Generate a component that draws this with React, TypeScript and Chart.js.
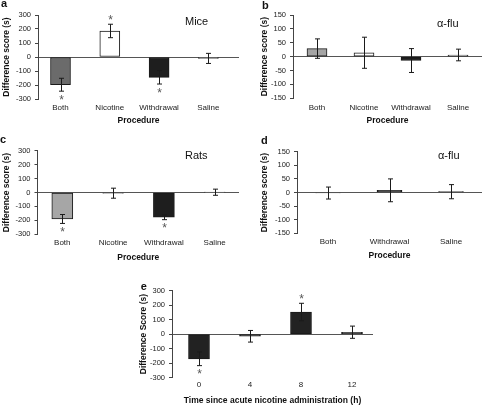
import React, { useEffect, useRef } from 'react';
import { Chart, registerables } from 'chart.js';

Chart.register(...registerables);

const FONT = "'Liberation Sans', Arial, Helvetica, sans-serif";
Chart.defaults.font.family = FONT;

// ---------- data ----------
const procedures = ['Both', 'Nicotine', 'Withdrawal', 'Saline'];
const proceduresD = ['Both', 'Withdrawal', 'Saline'];
const hours = ['0', '4', '8', '12'];

const ticks300 = [-300, -200, -100, 0, 100, 200, 300];
const ticks150 = [-150, -100, -50, 0, 50, 100, 150];

// a: Mice
const miceMean = [-198, 186, -145, -10];
const miceErr = [46, 48, 48, 36];
const miceSig = ['below', 'above', 'below', ''];
const miceColors = ['#6b6b6b', '#ffffff', '#1e1e1e', '#8c8c8c'];

// b: alpha-flu (mice)
const fluMiceMean = [29, 14, -14, 6];
const fluMiceErr = [35, 56, 43, 21];
const fluMiceSig = ['', '', '', ''];
const fluMiceColors = ['#a5a5a5', '#ffffff', '#1e1e1e', '#9a9a9a'];

// c: Rats
const ratsMean = [-190, -5, -177, 2];
const ratsErr = [32, 36, 18, 22];
const ratsSig = ['below', '', 'below', ''];
const ratsColors = ['#a6a6a6', '#1e1e1e', '#1e1e1e', '#8c8c8c'];

// d: alpha-flu (rats)
const fluRatsMean = [-2, 8, 3];
const fluRatsErr = [22, 42, 26];
const fluRatsSig = ['', '', ''];
const fluRatsColors = ['#4a4a4a', '#111111', '#3a3a3a'];

// e: time course
const timeMean = [-170, -15, 152, 13];
const timeErr = [47, 40, 60, 42];
const timeSig = ['below', '', 'above', ''];
const timeColors = ['#222222', '#222222', '#222222', '#222222'];

type Note = { text: string; x: number; y: number; size: number; bold?: boolean };

type PanelProps = {
  pos: { left: number; top: number; width: number; height: number };
  area: { left: number; top: number; right: number; bottom: number };
  labels: string[];
  means: number[];
  errs: number[];
  sig: string[];
  colors: string[];
  yTicks: number[];
  x0: number;
  dx: number;
  barWidth: number;
  yTitle: string;
  yTitleX: number;
  xTitle: string;
  xTitleY: number;
  xTickY: number;
  notes: Note[];
};

function Panel(p: PanelProps) {
  const ref = useRef<HTMLCanvasElement | null>(null);
  useEffect(() => {
    const canvas = ref.current;
    if (!canvas) return;
    const { width, height } = p.pos;
    const a = p.area;
    const xMin = -(p.x0 - a.left) / p.dx;
    const xMax = (a.right - p.x0) / p.dx;
    const yMin = p.yTicks[0];
    const yMax = p.yTicks[p.yTicks.length - 1];
    const tickFont = 8;
    const titleFont = 8.5;

    const overlay = {
      id: 'overlay',
      afterDatasetsDraw(chart: any) {
        const { ctx } = chart;
        const xs = chart.scales.x;
        const ys = chart.scales.y;
        ctx.save();
        ctx.strokeStyle = '#1a1a1a';
        ctx.lineWidth = 1;
        p.means.forEach((m, i) => {
          const px = Math.round(xs.getPixelForValue(i)) + 0.5;
          const hi = ys.getPixelForValue(m + p.errs[i]);
          const lo = ys.getPixelForValue(m - p.errs[i]);
          ctx.beginPath();
          ctx.moveTo(px, hi);
          ctx.lineTo(px, lo);
          ctx.moveTo(px - 2.5, hi);
          ctx.lineTo(px + 2.5, hi);
          ctx.moveTo(px - 2.5, lo);
          ctx.lineTo(px + 2.5, lo);
          ctx.stroke();
          const s = p.sig[i];
          if (s) {
            ctx.fillStyle = '#555';
            ctx.font = `12px ${FONT}`;
            ctx.textAlign = 'center';
            ctx.textBaseline = 'alphabetic';
            const cy = s === 'above' ? hi - 7.5 : lo + 6;
            ctx.fillText('*', px, cy + 6.8);
          }
        });
        ctx.restore();
      },
      afterDraw(chart: any) {
        const { ctx } = chart;
        ctx.save();
        ctx.fillStyle = '#111';
        ctx.textAlign = 'left';
        ctx.textBaseline = 'alphabetic';
        p.notes.forEach((n) => {
          ctx.font = `${n.bold ? 'bold ' : ''}${n.size}px ${FONT}`;
          ctx.fillText(n.text, n.x, n.y);
        });
        ctx.restore();
      },
    };

    const chart = new Chart(canvas, {
      type: 'bar',
      data: {
        datasets: [
          {
            data: p.means.map((v, i) => ({ x: i, y: v })),
            backgroundColor: p.colors,
            borderColor: '#1a1a1a',
            borderWidth: 1,
            borderSkipped: false,
            barThickness: p.barWidth,
          } as any,
        ],
      },
      options: {
        animation: false,
        responsive: false,
        maintainAspectRatio: false,
        events: [],
        layout: { padding: { left: 0, top: a.top, right: width - a.right, bottom: 0 } },
        plugins: { legend: { display: false }, tooltip: { enabled: false } },
        scales: {
          x: {
            type: 'linear',
            min: xMin,
            max: xMax,
            offset: false,
            grid: { display: false, drawTicks: false, tickLength: 0 },
            border: { display: false },
            afterBuildTicks: (ax: any) => {
              ax.ticks = p.labels.map((_, i) => ({ value: i }));
            },
            afterFit: (ax: any) => {
              ax.height = height - a.bottom;
            },
            ticks: {
              autoSkip: false,
              maxRotation: 0,
              minRotation: 0,
              padding: p.xTickY - a.bottom - (tickFont * 1.2) / 2,
              color: '#222',
              font: { size: tickFont },
              callback: (_v: any, i: number) => p.labels[i] ?? '',
            },
            title: {
              display: true,
              text: p.xTitle,
              color: '#111',
              font: { size: titleFont, weight: 'bold' },
              padding: { top: 0, bottom: height - p.xTitleY - (titleFont * 1.2) / 2 },
            },
          },
          y: {
            type: 'linear',
            min: yMin,
            max: yMax,
            afterBuildTicks: (ax: any) => {
              ax.ticks = p.yTicks.map((v) => ({ value: v }));
            },
            afterFit: (ax: any) => {
              ax.width = a.left;
            },
            grid: {
              color: (ctx: any) => (ctx.tick && ctx.tick.value === 0 ? '#555' : 'rgba(0,0,0,0)'),
              tickColor: '#444',
              tickLength: 3,
              lineWidth: 1,
            },
            border: { display: true, color: '#444', width: 1 },
            ticks: {
              color: '#222',
              font: { size: 7.5 },
              padding: 4,
              callback: (v: any) => String(v),
            },
            title: {
              display: true,
              text: p.yTitle,
              color: '#111',
              font: { size: titleFont, weight: 'bold' },
              padding: { top: p.yTitleX - (titleFont * 1.2) / 2, bottom: 0 },
            },
          },
        },
      } as any,
      plugins: [overlay],
    });
    return () => chart.destroy();
  }, []);
  return (
    <canvas
      ref={ref}
      width={p.pos.width}
      height={p.pos.height}
      style={{
        position: 'absolute',
        left: p.pos.left,
        top: p.pos.top,
        width: p.pos.width,
        height: p.pos.height,
      }}
    />
  );
}

export default function App() {
  return (
    <div
      style={{
        position: 'fixed',
        left: 0,
        top: 0,
        width: 482,
        height: 405,
        background: '#ffffff',
        overflow: 'hidden',
      }}
    >
      <Panel
        pos={{ left: 0, top: 0, width: 240, height: 135 }}
        area={{ left: 38, top: 15, right: 239, bottom: 99 }}
        labels={procedures}
        means={miceMean}
        errs={miceErr}
        sig={miceSig}
        colors={miceColors}
        yTicks={ticks300}
        x0={60.5}
        dx={49.3}
        barWidth={20}
        yTitle="Difference score (s)"
        yTitleX={6.5}
        xTitle="Procedure"
        xTitleY={121}
        xTickY={108}
        notes={[
          { text: 'a', x: 1, y: 6.5, size: 11, bold: true },
          { text: 'Mice', x: 185, y: 25, size: 11 },
        ]}
      />
      <Panel
        pos={{ left: 240, top: 0, width: 242, height: 135 }}
        area={{ left: 53, top: 15, right: 242, bottom: 98.3 }}
        labels={procedures}
        means={fluMiceMean}
        errs={fluMiceErr}
        sig={fluMiceSig}
        colors={fluMiceColors}
        yTicks={ticks150}
        x0={77}
        dx={47}
        barWidth={20}
        yTitle="Difference score (s)"
        yTitleX={25}
        xTitle="Procedure"
        xTitleY={121}
        xTickY={108}
        notes={[
          { text: 'b', x: 22, y: 8.5, size: 11, bold: true },
          { text: 'α-flu', x: 197, y: 26.5, size: 11 },
        ]}
      />
      <Panel
        pos={{ left: 0, top: 135, width: 240, height: 135 }}
        area={{ left: 37.5, top: 15.7, right: 239, bottom: 99.3 }}
        labels={procedures}
        means={ratsMean}
        errs={ratsErr}
        sig={ratsSig}
        colors={ratsColors}
        yTicks={ticks300}
        x0={62.3}
        dx={50.8}
        barWidth={21}
        yTitle="Difference score (s)"
        yTitleX={6.7}
        xTitle="Procedure"
        xTitleY={122.7}
        xTickY={108}
        notes={[
          { text: 'c', x: 0, y: 8, size: 11, bold: true },
          { text: 'Rats', x: 185, y: 24, size: 11 },
        ]}
      />
      <Panel
        pos={{ left: 240, top: 135, width: 242, height: 135 }}
        area={{ left: 57, top: 16.7, right: 242, bottom: 98.3 }}
        labels={proceduresD}
        means={fluRatsMean}
        errs={fluRatsErr}
        sig={fluRatsSig}
        colors={fluRatsColors}
        yTicks={ticks150}
        x0={88}
        dx={61.5}
        barWidth={25}
        yTitle="Difference score (s)"
        yTitleX={25}
        xTitle="Procedure"
        xTitleY={121}
        xTickY={106.7}
        notes={[
          { text: 'd', x: 21, y: 9, size: 11, bold: true },
          { text: 'α-flu', x: 198, y: 24.3, size: 11 },
        ]}
      />
      <Panel
        pos={{ left: 120, top: 270, width: 256, height: 135 }}
        area={{ left: 52, top: 20.5, right: 253, bottom: 107.7 }}
        labels={hours}
        means={timeMean}
        errs={timeErr}
        sig={timeSig}
        colors={timeColors}
        yTicks={ticks300}
        x0={79}
        dx={51}
        barWidth={21}
        yTitle="Difference Score (s)"
        yTitleX={23.3}
        xTitle="Time since acute nicotine administration (h)"
        xTitleY={131}
        xTickY={114.3}
        notes={[{ text: 'e', x: 20.7, y: 20, size: 11, bold: true }]}
      />
    </div>
  );
}
